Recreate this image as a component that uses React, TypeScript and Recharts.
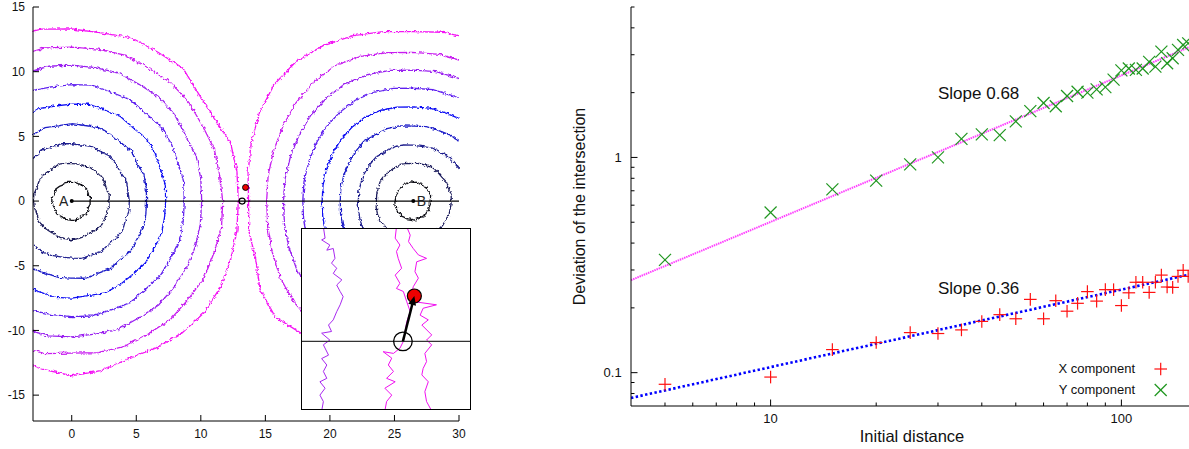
import React from 'react';
import { ComposedChart, Line, Scatter, XAxis, YAxis } from 'recharts';

const FONT = '"Liberation Sans", Arial, Helvetica, sans-serif';

// ---------------- Left panel: level curves around A and B ----------------
const A_X = 0;
const B_X = 26.46;
const RING_ANGLE_STEP = 10; // degrees between the radii

const A_RING_RADII: number[][] = [
  [1.42,1.47,1.40,1.46,1.50,1.44,1.49,1.43,1.47,1.44,1.46,1.51,1.42,1.48,1.53,1.47,1.44,1.52,1.55,1.49,1.44,1.48,1.52,1.46,1.43,1.50,1.47,1.50,1.52,1.45,1.40,1.46,1.50,1.44,1.38,1.45],
  [2.90,2.95,2.86,2.93,3.00,2.91,2.96,2.88,2.92,2.89,2.95,3.01,2.90,2.94,3.02,2.95,2.90,2.98,2.97,2.93,2.88,2.96,3.00,2.92,2.90,2.97,2.94,2.99,2.94,2.90,2.84,2.93,2.98,2.91,2.86,2.92],
  [4.46,4.42,4.52,4.38,4.47,4.55,4.44,4.50,4.40,4.43,4.51,4.46,4.58,4.45,4.52,4.60,4.48,4.55,4.50,4.56,4.47,4.53,4.44,4.49,4.57,4.46,4.40,4.41,4.50,4.44,4.52,4.40,4.47,4.55,4.42,4.50],
  [5.80,5.86,5.95,5.84,6.02,5.90,5.96,6.05,5.93,5.98,5.90,6.04,5.95,6.10,5.99,6.05,5.93,6.08,6.00,6.06,5.94,6.02,6.10,5.97,6.03,5.92,5.99,5.96,6.06,5.94,6.01,5.88,5.97,5.85,5.92,5.83],
  [7.28,7.36,7.30,7.45,7.52,7.40,7.55,7.48,7.60,7.50,7.46,7.58,7.50,7.62,7.55,7.48,7.60,7.52,7.58,7.50,7.63,7.55,7.47,7.58,7.52,7.45,7.56,7.50,7.42,7.55,7.47,7.38,7.45,7.35,7.40,7.30],
  [8.72,8.80,8.75,8.90,8.98,8.88,9.05,8.95,9.10,9.00,8.96,9.08,9.00,9.12,9.04,9.10,9.02,9.15,9.05,9.10,9.00,9.12,9.05,8.98,9.08,9.00,8.92,8.93,9.02,8.95,9.06,8.90,8.96,8.85,8.88,8.78],
  [10.07,10.15,10.25,10.18,10.40,10.50,10.42,10.55,10.48,10.50,10.58,10.50,10.62,10.55,10.65,10.58,10.66,10.60,10.70,10.62,10.68,10.58,10.64,10.55,10.60,10.52,10.58,10.50,10.45,10.55,10.42,10.48,10.35,10.28,10.20,10.12],
  [11.70,11.62,11.75,11.68,11.85,11.95,11.88,12.00,11.92,11.90,12.02,11.95,12.08,12.00,12.10,12.04,12.12,12.06,12.15,12.08,12.12,12.03,12.10,12.00,12.05,11.95,11.98,11.76,11.90,11.95,11.85,11.92,11.80,11.85,11.72,11.78],
  [12.90,13.00,13.10,12.75,12.85,13.40,13.30,13.45,13.20,13.30,13.50,13.55,13.60,13.50,13.65,13.55,13.60,13.50,13.55,13.45,13.60,13.50,13.55,13.40,13.30,13.00,13.20,13.50,13.30,12.95,13.10,13.30,13.40,13.30,13.10,13.00],
];

const B_RING_RADII: number[][] = [
  [1.30,1.36,1.42,1.38,1.45,1.40,1.47,1.42,1.48,1.44,1.50,1.43,1.48,1.41,1.46,1.40,1.44,1.38,1.42,1.45,1.40,1.48,1.43,1.50,1.44,1.47,1.41,1.45,1.46,1.40,1.38,1.42,1.35,1.38,1.32,1.34],
  [2.94,2.98,2.90,2.96,2.88,2.93,2.99,2.92,2.95,2.89,2.96,3.02,2.94,2.99,2.92,2.97,2.90,2.88,2.86,2.92,2.95,2.99,2.93,3.00,2.94,2.97,2.92,2.96,3.00,2.94,2.98,2.91,2.96,2.90,2.95,2.92],
  [4.30,4.35,4.28,4.40,4.33,4.38,4.30,4.36,4.28,4.32,4.40,4.45,4.38,4.46,4.40,4.35,4.30,4.28,4.26,4.32,4.38,4.45,4.40,4.48,4.42,4.38,4.32,4.40,4.35,4.30,4.38,4.33,4.40,4.36,4.30,4.34],
  [5.80,5.85,5.78,5.82,5.88,5.80,5.86,5.79,5.84,5.80,5.90,5.96,5.92,6.00,5.88,5.80,5.74,5.70,5.66,5.72,5.80,5.88,5.95,6.00,5.92,5.86,5.80,5.84,5.78,5.85,5.80,5.88,5.82,5.86,5.78,5.83],
  [7.25,7.30,7.22,7.28,7.34,7.26,7.32,7.25,7.30,7.28,7.38,7.45,7.50,7.42,7.35,7.25,7.15,7.10,7.06,7.12,7.22,7.35,7.45,7.50,7.40,7.32,7.28,7.30,7.25,7.32,7.26,7.30,7.24,7.28,7.22,7.26],
  [8.70,8.75,8.68,8.74,8.80,8.72,8.78,8.70,8.75,8.72,8.85,8.95,9.00,8.92,8.85,8.75,8.65,8.60,8.56,8.62,8.75,8.88,8.98,9.02,8.92,8.85,8.78,8.80,8.74,8.78,8.72,8.76,8.70,8.74,8.68,8.72],
  [10.15,10.20,10.12,10.18,10.22,10.15,10.20,10.12,10.16,10.12,10.25,10.40,10.50,10.42,10.35,10.22,10.12,10.08,10.06,10.14,10.28,10.45,10.58,10.62,10.50,10.38,10.28,10.25,10.20,10.24,10.18,10.22,10.16,10.20,10.14,10.18],
  [11.60,11.65,11.58,11.62,11.55,11.50,11.55,11.48,11.52,11.50,11.65,11.90,12.10,12.00,11.85,11.65,11.50,11.42,11.36,11.45,11.62,11.90,12.10,12.25,12.15,12.00,11.85,11.80,11.72,11.76,11.68,11.72,11.65,11.70,11.62,11.66],
  [13.10,13.15,13.05,13.12,13.20,13.25,13.30,13.35,13.25,13.10,13.30,13.60,13.90,14.10,14.05,13.75,13.35,13.00,12.76,12.95,13.00,13.70,13.95,13.40,13.35,13.20,13.25,13.15,13.20,13.10,13.18,13.12,13.20,13.15,13.08,13.12],
];

const RING_COLORS = ['#101018', '#1c1c5c', '#20208e', '#1c1cc8', '#1010f4', '#6020f0', '#9a20f0', '#c81cf0', '#f414f4'];

const BASELINE = [{ x: 0, y: 0 }, { x: 30, y: 0 }];
const SOURCES = [{ x: A_X, y: 0, name: 'A' }, { x: B_X, y: 0, name: 'B' }];
const CROSSING = [{ x: 13.2, y: 0 }];
const SHIFTED = [{ x: 13.466, y: 1.055 }];
const LEFT_X_TICKS = [0, 5, 10, 15, 20, 25, 30];
const LEFT_Y_TICKS = [-15, -10, -5, 0, 5, 10, 15];

// ---------------- Inset (magnified view around the crossing) ----------------
const INSET_TRACE_1: [number, number][] = [
  [11.35,2.66],[11.39,2.40],[11.31,2.36],[11.50,2.24],[11.43,2.12],[11.58,2.16],[11.62,1.93],[11.54,1.82],
  [11.66,1.70],[11.58,1.58],[11.78,1.43],[11.66,1.31],[11.74,1.16],[11.81,1.04],[11.74,0.85],[11.66,0.69],
  [11.58,0.50],[11.47,0.38],[11.54,0.23],[11.31,0.19],[11.50,0.03],[11.35,-0.08],[11.47,-0.32],[11.31,-0.40],
  [11.43,-0.55],[11.35,-0.70],[11.43,-0.86],[11.27,-0.94],[11.39,-1.09],[11.27,-1.25],[11.35,-1.40],[11.31,-1.62],
];
const INSET_TRACE_2: [number, number][] = [
  [13.05,2.66],[13.02,2.40],[13.13,2.24],[13.05,2.09],[13.09,1.93],[13.17,1.70],[13.02,1.54],[13.13,1.35],
  [13.05,1.23],[13.21,1.16],[13.29,0.92],[13.37,0.69],[13.29,0.46],[13.25,0.23],[13.21,0.0],[13.13,-0.16],
  [12.98,-0.28],[12.74,-0.24],[12.94,-0.39],[12.86,-0.55],[12.98,-0.70],[12.82,-0.86],[13.02,-0.94],[12.78,-1.09],
  [12.94,-1.25],[12.82,-1.40],[12.78,-1.62],
];
const INSET_TRACE_3: [number, number][] = [
  [13.29,2.66],[13.37,2.47],[13.33,2.32],[13.44,2.16],[13.56,2.01],[13.75,1.93],[13.52,1.85],[13.48,1.62],
  [13.56,1.47],[13.44,1.27],[13.40,1.08],[13.48,0.92],[13.98,0.85],[13.67,0.77],[13.60,0.61],[13.79,0.50],
  [13.64,0.38],[13.87,0.15],[13.75,0.03],[13.87,-0.08],[13.71,-0.28],[13.75,-0.47],[13.67,-0.63],[13.64,-0.78],
  [13.79,-0.94],[13.71,-1.17],[13.75,-1.40],[13.87,-1.62],
];
const INSET_TRACE_COLORS = ['#a828f0', '#f010f0', '#f010f0'];
const INSET_X_DOMAIN: [number, number] = [10.853, 14.76];
const INSET_Y_DOMAIN: [number, number] = [-1.573, 2.613];
const INSET_AXIS = [{ x: 10.853, y: 0 }, { x: 14.76, y: 0 }];
const ARROW = [{ x: 13.2, y: 0 }, { x: 13.466, y: 1.055 }];

// ---------------- Right panel: deviation vs initial distance ----------------
const DISTANCES = [5,10,15,20,25,30,35,40,45,50,55,60,65,70,75,80,85,90,95,100,105,110,115,120,125,130,135,140,145,150,155];
const X_DEVIATION = [0.0883,0.0954,0.128,0.138,0.1535,0.152,0.158,0.173,0.186,0.178,0.219,0.178,0.216,0.193,0.21,0.238,0.215,0.243,0.243,0.205,0.235,0.263,0.263,0.236,0.263,0.284,0.25,0.249,0.28,0.299,0.28];
const Y_DEVIATION = [0.334,0.555,0.71,0.78,0.928,1.0,1.22,1.28,1.27,1.47,1.64,1.79,1.73,1.93,2.02,2.0,2.07,2.12,2.3,2.54,2.59,2.55,2.59,2.78,2.64,3.1,2.74,2.89,3.16,3.33,3.39];
const FIT_X = [{ x: 4, y: 0.0763 }, { x: 160, y: 0.288 }];
const FIT_Y = [{ x: 4, y: 0.269 }, { x: 160, y: 3.31 }];
const RIGHT_X_DOMAIN: [number, number] = [4, 160];
const RIGHT_Y_DOMAIN: [number, number] = [0.07, 5];
const RIGHT_X_TICKS = [5, 6, 7, 8, 9, 10, 20, 30, 40, 50, 60, 70, 80, 90, 100];
const RIGHT_X_MAJOR = [10, 100];
const RIGHT_Y_TICKS = [0.08, 0.09, 0.1, 0.2, 0.3, 0.4, 0.5, 0.6, 0.7, 0.8, 0.9, 1, 2, 3, 4, 5];
const RIGHT_Y_MAJOR = [0.1, 1];

// ---------------- helpers ----------------
const ringPoints = (cx: number, radii: number[]) => {
  const pts = radii.map((r, i) => {
    const t = (i * RING_ANGLE_STEP * Math.PI) / 180;
    return { x: cx + r * Math.cos(t), y: r * Math.sin(t) };
  });
  return [...pts, pts[0]];
};
const pairs = (arr: [number, number][]) => arr.map(([x, y]) => ({ x, y }));

const xData = DISTANCES.map((d, i) => ({ x: d, y: X_DEVIATION[i] }));
const yData = DISTANCES.map((d, i) => ({ x: d, y: Y_DEVIATION[i] }));

type Side = 'bottom' | 'top' | 'left' | 'right';
const tickRenderer = (
  side: Side,
  majors: number[] | null,
  majorLen: number,
  minorLen: number,
  fontSize: number,
  gap: number,
  showLabel: boolean,
) => (p: any) => {
  const v = Number(p.payload?.value);
  const isMajor = majors ? majors.some((m) => Math.abs(m - v) < 1e-9) : true;
  const L = isMajor ? majorLen : minorLen;
  const x = p.x;
  const y = p.y;
  const d =
    side === 'bottom' ? [x, y, x, y - L] :
    side === 'top' ? [x, y, x, y + L] :
    side === 'left' ? [x, y, x + L, y] : [x, y, x - L, y];
  return (
    <g>
      <line x1={d[0]} y1={d[1]} x2={d[2]} y2={d[3]} stroke="#000" strokeWidth={1} />
      {showLabel && isMajor && side === 'bottom' && (
        <text x={x} y={y + gap} textAnchor="middle" fontSize={fontSize} fontFamily={FONT} fill="#111">{String(v)}</text>
      )}
      {showLabel && isMajor && side === 'left' && (
        <text x={x - gap} y={y + fontSize * 0.36} textAnchor="end" fontSize={fontSize} fontFamily={FONT} fill="#111">{String(v)}</text>
      )}
    </g>
  );
};

const PlusMark = (p: any) => {
  const { cx, cy } = p;
  if (cx == null || cy == null) return <g />;
  const s = 6.3;
  return (
    <g stroke="#ff1010" strokeWidth={1.2}>
      <line x1={cx - s} y1={cy} x2={cx + s} y2={cy} />
      <line x1={cx} y1={cy - s} x2={cx} y2={cy + s} />
    </g>
  );
};
const CrossMark = (p: any) => {
  const { cx, cy } = p;
  if (cx == null || cy == null) return <g />;
  const s = 6;
  return (
    <g stroke="#1f961f" strokeWidth={1.2}>
      <line x1={cx - s} y1={cy - s} x2={cx + s} y2={cy + s} />
      <line x1={cx - s} y1={cy + s} x2={cx + s} y2={cy - s} />
    </g>
  );
};

const SourceMark = (p: any) => {
  const { cx, cy, payload } = p;
  const isA = payload?.name === 'A';
  return (
    <g>
      <circle cx={cx} cy={cy} r={2} fill="#000" />
      <text x={isA ? cx - 3.5 : cx + 3.5} y={cy + 5.3} textAnchor={isA ? 'end' : 'start'} fontSize={14} fontFamily={FONT} fill="#222">
        {payload?.name}
      </text>
    </g>
  );
};
const OpenDot = (r: number, w: number) => (p: any) => (
  <circle cx={p.cx} cy={p.cy} r={r} fill="none" stroke="#000" strokeWidth={w} />
);
const RedDot = (r: number, w: number) => (p: any) => (
  <circle cx={p.cx} cy={p.cy} r={r} fill="#ee0000" stroke="#000" strokeWidth={w} />
);
const ArrowHead = (p: any) => {
  const { cx, cy } = p;
  // direction of the arrow in data units (x/y pixel scales of the inset are equal)
  const dx = ARROW[1].x - ARROW[0].x;
  const dy = -(ARROW[1].y - ARROW[0].y);
  const n = Math.hypot(dx, dy);
  const ux = dx / n, uy = dy / n;
  const len = 9, hw = 4;
  const bx = cx - ux * len, by = cy - uy * len;
  const pts = `${cx},${cy} ${bx - uy * hw},${by + ux * hw} ${bx + uy * hw},${by - ux * hw}`;
  return <polygon points={pts} fill="#000" />;
};

export default function App() {
  const axisLine = { stroke: '#000', strokeWidth: 1 };
  return (
    <div style={{ position: 'fixed', left: 0, top: 0, width: 1189, height: 449, overflow: 'hidden', background: '#fff', fontFamily: FONT }}>
      <style>{`.rough-ring { filter: url(#roughen); }`}</style>
      <svg width={0} height={0} style={{ position: 'absolute' }}>
        <defs>
          <filter id="roughen" x="-5%" y="-5%" width="110%" height="110%" colorInterpolationFilters="sRGB">
            <feTurbulence type="fractalNoise" baseFrequency="0.3" numOctaves={3} seed={4} result="noise" />
            <feDisplacementMap in="SourceGraphic" in2="noise" scale={4} xChannelSelector="R" yChannelSelector="G" />
          </filter>
        </defs>
      </svg>

      {/* Left panel */}
      <div style={{ position: 'absolute', left: 0, top: 0 }}>
        <ComposedChart width={470} height={449} margin={{ top: 7, right: 11, bottom: 0, left: 0 }}>
          <XAxis dataKey="x" type="number" domain={[-3, 30]} allowDataOverflow ticks={LEFT_X_TICKS} interval={0}
            height={28} tickSize={0} tickMargin={0} tickLine={false} axisLine={axisLine}
            tick={tickRenderer('bottom', null, 6, 6, 12, 17, true)} />
          <XAxis xAxisId="top" orientation="top" dataKey="x" type="number" domain={[-3, 30]} allowDataOverflow ticks={LEFT_X_TICKS} interval={0}
            height={0} tickSize={0} tickMargin={0} tickLine={false} axisLine={axisLine}
            tick={tickRenderer('top', null, 6, 6, 12, 0, false)} />
          <YAxis dataKey="y" type="number" domain={[-17, 15]} allowDataOverflow ticks={LEFT_Y_TICKS} interval={0}
            width={33} tickSize={0} tickMargin={0} tickLine={false} axisLine={axisLine}
            tick={tickRenderer('left', null, 6, 6, 12, 8, true)} />
          <YAxis yAxisId="right" orientation="right" dataKey="y" type="number" domain={[-17, 15]} allowDataOverflow ticks={LEFT_Y_TICKS} interval={0}
            width={0} tickSize={0} tickMargin={0} tickLine={false} axisLine={axisLine}
            tick={tickRenderer('right', null, 6, 6, 12, 0, false)} />
          {A_RING_RADII.map((radii, i) => (
            <Line key={`a${i}`} className="rough-ring" data={ringPoints(A_X, radii)} dataKey="y" type="linear" stroke={RING_COLORS[i]}
              strokeWidth={1.3} dot={false} activeDot={false} isAnimationActive={false} />
          ))}
          {B_RING_RADII.map((radii, i) => (
            <Line key={`b${i}`} className="rough-ring" data={ringPoints(B_X, radii)} dataKey="y" type="linear" stroke={RING_COLORS[i]}
              strokeWidth={1.3} dot={false} activeDot={false} isAnimationActive={false} />
          ))}
          <Line data={BASELINE} dataKey="y" stroke="#000" strokeWidth={1.2} dot={false} activeDot={false} isAnimationActive={false} />
          <Scatter data={SOURCES} dataKey="y" shape={SourceMark} isAnimationActive={false} />
          <Scatter data={CROSSING} dataKey="y" shape={OpenDot(3, 1.2)} isAnimationActive={false} />
          <Scatter data={SHIFTED} dataKey="y" shape={RedDot(3, 1)} isAnimationActive={false} />
        </ComposedChart>
      </div>

      {/* Inset */}
      <div style={{ position: 'absolute', left: 301, top: 228, width: 170, height: 182, border: '1px solid #000', boxSizing: 'border-box', background: '#fff' }}>
        <ComposedChart width={168} height={180} margin={{ top: 0, right: 0, bottom: 0, left: 0 }}>
          <XAxis hide dataKey="x" type="number" domain={INSET_X_DOMAIN} allowDataOverflow />
          <YAxis hide dataKey="y" type="number" domain={INSET_Y_DOMAIN} allowDataOverflow />
          {[INSET_TRACE_1, INSET_TRACE_2, INSET_TRACE_3].map((tr, i) => (
            <Line key={`t${i}`} data={pairs(tr)} dataKey="y" type="linear" stroke={INSET_TRACE_COLORS[i]}
              strokeWidth={1} dot={false} activeDot={false} isAnimationActive={false} />
          ))}
          <Line data={INSET_AXIS} dataKey="y" stroke="#333" strokeWidth={1.2} dot={false} activeDot={false} isAnimationActive={false} />
          <Scatter data={CROSSING} dataKey="y" shape={OpenDot(9.3, 1.3)} isAnimationActive={false} />
          <Scatter data={SHIFTED} dataKey="y" shape={RedDot(7, 1.2)} isAnimationActive={false} />
          <Line data={ARROW} dataKey="y" stroke="#000" strokeWidth={2.5} dot={false} activeDot={false} isAnimationActive={false} />
          <Scatter data={[ARROW[1]]} dataKey="y" shape={ArrowHead} isAnimationActive={false} />
        </ComposedChart>
      </div>

      {/* Right panel */}
      <div style={{ position: 'absolute', left: 560, top: 0 }}>
        <ComposedChart width={640} height={449} margin={{ top: 7, right: 7, bottom: 0, left: 0 }}>
          <XAxis dataKey="x" type="number" scale="log" domain={RIGHT_X_DOMAIN} allowDataOverflow ticks={RIGHT_X_TICKS} interval={0}
            height={43} tickSize={0} tickMargin={0} tickLine={false} axisLine={axisLine}
            tick={tickRenderer('bottom', RIGHT_X_MAJOR, 6.5, 3.5, 13, 17.3, true)} />
          <XAxis xAxisId="top" orientation="top" dataKey="x" type="number" scale="log" domain={RIGHT_X_DOMAIN} allowDataOverflow ticks={RIGHT_X_TICKS} interval={0}
            height={0} tickSize={0} tickMargin={0} tickLine={false} axisLine={axisLine}
            tick={tickRenderer('top', RIGHT_X_MAJOR, 6.5, 3.5, 13, 0, false)} />
          <YAxis dataKey="y" type="number" scale="log" domain={RIGHT_Y_DOMAIN} allowDataOverflow ticks={RIGHT_Y_TICKS} interval={0}
            width={71} tickSize={0} tickMargin={0} tickLine={false} axisLine={axisLine}
            tick={tickRenderer('left', RIGHT_Y_MAJOR, 6.5, 3.5, 13, 9.3, true)} />
          <YAxis yAxisId="right" orientation="right" dataKey="y" type="number" scale="log" domain={RIGHT_Y_DOMAIN} allowDataOverflow ticks={RIGHT_Y_TICKS} interval={0}
            width={0} tickSize={0} tickMargin={0} tickLine={false} axisLine={axisLine}
            tick={tickRenderer('right', RIGHT_Y_MAJOR, 6.5, 3.5, 13, 0, false)} />
          <Line data={FIT_Y} dataKey="y" stroke="#ff40ff" strokeWidth={2} strokeDasharray="1.5 0.8" dot={false} activeDot={false} isAnimationActive={false} />
          <Line data={FIT_X} dataKey="y" stroke="#0000ff" strokeWidth={2.6} strokeDasharray="2.4 2.4" dot={false} activeDot={false} isAnimationActive={false} />
          <Scatter data={xData} dataKey="y" shape={PlusMark} isAnimationActive={false} />
          <Scatter data={yData} dataKey="y" shape={CrossMark} isAnimationActive={false} />
        </ComposedChart>
      </div>

      {/* Annotations */}
      <svg width={1189} height={449} style={{ position: 'absolute', left: 0, top: 0, pointerEvents: 'none' }}>
        <text transform="translate(585,206.5) rotate(-90)" textAnchor="middle" fontSize={16} fontFamily={FONT} fill="#111">Deviation of the intersection</text>
        <text x={912} y={442} textAnchor="middle" fontSize={16.5} fontFamily={FONT} fill="#111">Initial distance</text>
        <text x={938} y={98.5} fontSize={17} fontFamily={FONT} fill="#111">Slope 0.68</text>
        <text x={938} y={293.5} fontSize={17} fontFamily={FONT} fill="#111">Slope 0.36</text>
        <text x={1135} y={373} textAnchor="end" fontSize={13} fontFamily={FONT} fill="#111">X component</text>
        <text x={1135} y={394} textAnchor="end" fontSize={13} fontFamily={FONT} fill="#111">Y component</text>
        <PlusMark cx={1160.7} cy={369} />
        <CrossMark cx={1160.7} cy={390} />
      </svg>
    </div>
  );
}
